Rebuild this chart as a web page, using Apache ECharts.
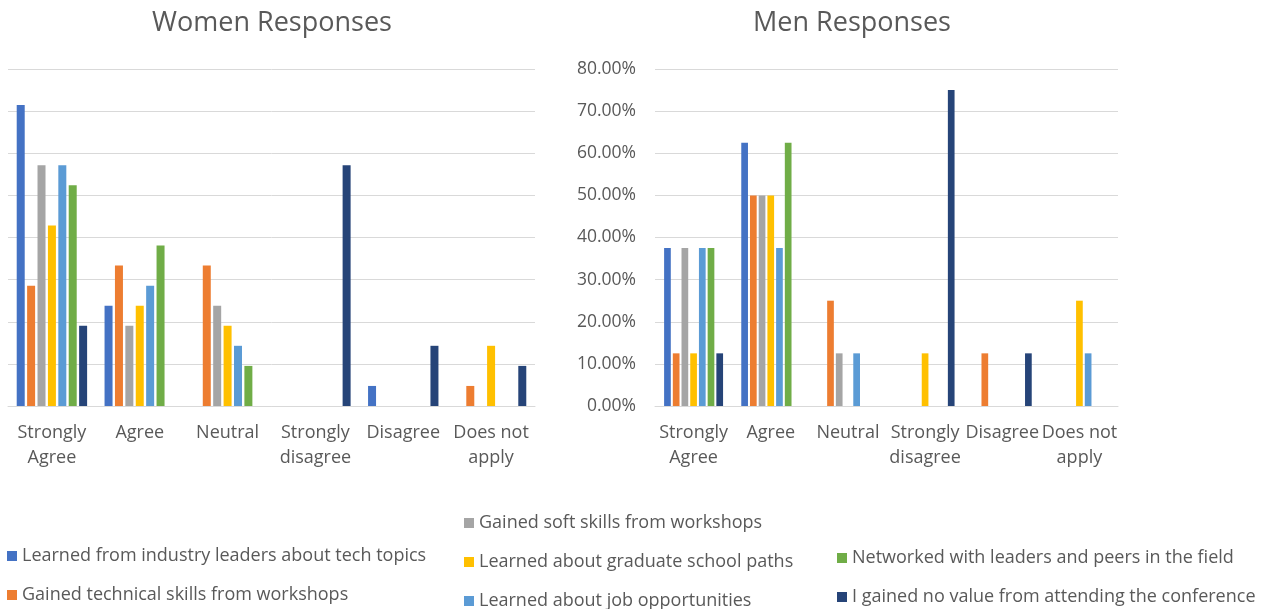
<!DOCTYPE html>
<html>
<head>
<meta charset="utf-8">
<title>Women / Men Responses</title>
<script src="https://cdn.jsdelivr.net/npm/echarts@6/dist/echarts.min.js"></script>
<style>
  html, body { margin: 0; padding: 0; background: #fff; }
  #main { width: 1274px; height: 609px; }
</style>
</head>
<body>
<div id="main"></div>
<script>
// categories (answers)
var categories = ['Strongly\nAgree', 'Agree', 'Neutral', 'Strongly\ndisagree', 'Disagree', 'Does not\napply'];

// series names, in legend order
var seriesNames = [
    'Learned from industry leaders about tech topics',
    'Gained technical skills from workshops',
    'Gained soft skills from workshops',
    'Learned about graduate school paths',
    'Learned about job opportunities',
    'Networked with leaders and peers in the field',
    'I gained no value from attending the conference'
];

// women values, percent
var womenIndustry  = [71.43, 23.81, 0, 0, 4.76, 0];
var womenTechnical = [28.57, 33.33, 33.33, 0, 0, 4.76];
var womenSoft      = [57.14, 19.05, 23.81, 0, 0, 0];
var womenGraduate  = [42.86, 23.81, 19.05, 0, 0, 14.29];
var womenJobs      = [57.14, 28.57, 14.29, 0, 0, 0];
var womenNetwork   = [52.38, 38.10, 9.52, 0, 0, 0];
var womenNoValue   = [19.05, 0, 0, 57.14, 14.29, 9.52];

// men values, percent
var menIndustry  = [37.5, 62.5, 0, 0, 0, 0];
var menTechnical = [12.5, 50, 25, 0, 12.5, 0];
var menSoft      = [37.5, 50, 12.5, 0, 0, 0];
var menGraduate  = [12.5, 50, 0, 12.5, 0, 25];
var menJobs      = [37.5, 37.5, 12.5, 0, 0, 12.5];
var menNetwork   = [37.5, 62.5, 0, 0, 0, 0];
var menNoValue   = [12.5, 0, 0, 75, 12.5, 0];

// y axis ticks
var yMin = 0, yMax = 80, yStep = 10;

var colors = ['#4472C4', '#ED7D31', '#A5A5A5', '#FFC000', '#5B9BD5', '#70AD47', '#264478'];

var womenData = [womenIndustry, womenTechnical, womenSoft, womenGraduate, womenJobs, womenNetwork, womenNoValue];
var menData = [menIndustry, menTechnical, menSoft, menGraduate, menJobs, menNetwork, menNoValue];

var font = 'Open Sans';
var textColor = '#595959';
var gridColor = '#d9d9d9';

var myChart = echarts.init(document.getElementById('main'));

function makeSeries(data, axisIndex, barWidth) {
    return data.map(function (vals, i) {
        return {
            name: seriesNames[i],
            type: 'bar',
            xAxisIndex: axisIndex,
            yAxisIndex: axisIndex,
            data: vals,
            barWidth: barWidth,
            barGap: '30%',
            itemStyle: { color: colors[i] }
        };
    });
}

function xAxisFor(gridIndex) {
    return {
        type: 'category',
        gridIndex: gridIndex,
        data: categories,
        axisTick: { show: false },
        axisLine: { lineStyle: { color: gridColor, width: 1 } },
        axisLabel: {
            interval: 0,
            margin: 14,
            color: textColor,
            fontFamily: font,
            fontSize: 18,
            lineHeight: 25
        }
    };
}

function yAxisFor(gridIndex, showLabels) {
    return {
        type: 'value',
        gridIndex: gridIndex,
        min: yMin,
        max: yMax,
        interval: yStep,
        axisLine: { show: false },
        axisTick: { show: false },
        splitLine: { lineStyle: { color: gridColor, width: 1 } },
        axisLabel: {
            show: showLabels,
            margin: 19,
            color: textColor,
            fontFamily: font,
            fontSize: 17.5,
            formatter: function (v) { return v.toFixed(2) + '%'; }
        }
    };
}

var legendBase = {
    orient: 'vertical',
    icon: 'rect',
    itemWidth: 10,
    itemHeight: 10,
    itemGap: 21,
    padding: 0,
    height: 120,
    textStyle: { color: textColor, fontFamily: font, fontSize: 18, lineHeight: 18 }
};

var option = {
    backgroundColor: '#fff',
    animation: false,
    title: [{
        text: 'Women Responses',
        left: 272, top: 10, textAlign: 'center', padding: 0,
        textStyle: { color: textColor, fontFamily: font, fontSize: 27, fontWeight: 'normal' }
    }, {
        text: 'Men Responses',
        left: 852, top: 10, textAlign: 'center', padding: 0,
        textStyle: { color: textColor, fontFamily: font, fontSize: 27, fontWeight: 'normal' }
    }],
    legend: [
        Object.assign({}, legendBase, { left: 7, top: 547, data: [seriesNames[0], seriesNames[1]] }),
        Object.assign({}, legendBase, { left: 464, top: 514, data: [seriesNames[2], seriesNames[3], seriesNames[4]] }),
        Object.assign({}, legendBase, { left: 837, top: 549, data: [seriesNames[5], seriesNames[6]] })
    ],
    grid: [
        { left: 8, right: 739, top: 69, bottom: 203 },
        { left: 655, right: 156, top: 69, bottom: 203 }
    ],
    xAxis: [xAxisFor(0), xAxisFor(1)],
    yAxis: [yAxisFor(0, false), yAxisFor(1, true)],
    series: makeSeries(womenData, 0, 8).concat(makeSeries(menData, 1, 6.7))
};

myChart.setOption(option);
</script>
</body>
</html>
